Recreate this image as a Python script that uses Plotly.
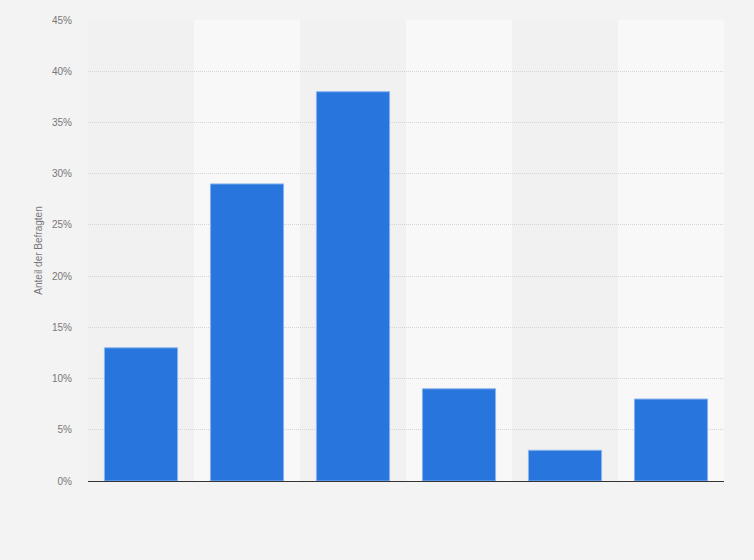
import plotly.graph_objects as go

categories = ["Kategorie 1", "Kategorie 2", "Kategorie 3", "Kategorie 4", "Kategorie 5", "Kategorie 6"]
shares = [13, 29, 38, 9, 3, 8]
y_ticks = [0, 5, 10, 15, 20, 25, 30, 35, 40, 45]
y_tick_labels = [f"{v}%" for v in y_ticks]

fig = go.Figure()
fig.add_trace(go.Bar(
    x=categories, y=shares,
    marker=dict(color="#2876dd", line=dict(color="#8ab4ee", width=1)),
    width=0.69,
))

# alternating column bands
for i in range(len(categories)):
    fig.add_shape(
        type="rect", xref="x", yref="paper",
        x0=i - 0.5, x1=i + 0.5, y0=0, y1=1,
        fillcolor="#f1f1f1" if i % 2 == 0 else "#f8f8f8",
        line=dict(width=0), layer="below",
    )

fig.update_layout(
    width=754, height=560,
    paper_bgcolor="#f3f3f3",
    plot_bgcolor="#f3f3f3",
    margin=dict(l=88, r=30, t=20, b=79),
    showlegend=False,
    font=dict(family="Liberation Sans, Arial, sans-serif", color="#777777", size=10),
    xaxis=dict(
        showticklabels=False, showgrid=False, ticks="",
        showline=True, linecolor="#333333", linewidth=1,
        range=[-0.5, len(categories) - 0.5],
    ),
    yaxis=dict(
        range=[0, 45], tickvals=y_ticks, ticktext=y_tick_labels,
        showgrid=True, gridcolor="#d4d4d4", griddash="1px,1px", gridwidth=1,
        zeroline=False, ticks="", ticklen=0, ticklabelstandoff=15,
        title=dict(text="Anteil der Befragten", font=dict(size=10, color="#777777"), standoff=7),
    ),
)

fig.write_html(
    "out.html",
    config={"displayModeBar": False},
    post_script="document.body.style.margin='0';document.body.style.background='#f3f3f3';",
)
